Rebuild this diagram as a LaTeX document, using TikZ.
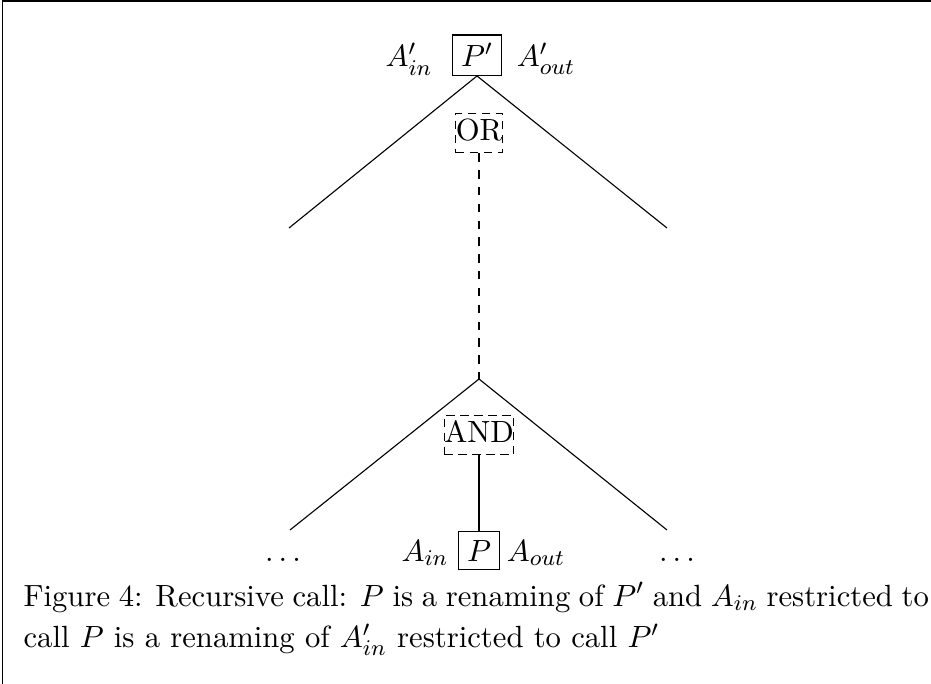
\documentclass[tikz,border=0pt]{standalone}
\begin{document}
\begin{tikzpicture}[x=0.357pt,y=-0.357pt,
  every node/.style={font=\fontsize{10.95pt}{13.6pt}\selectfont},
  solidbox/.style={draw,inner sep=3pt},
  dashbox/.style={draw,densely dashed,inner xsep=0pt,inner ysep=0.3pt},
  lbl/.style={anchor=base,inner sep=0pt},
  branch/.style={line width=0.4pt}]
\useasboundingbox (0,0) rectangle (931,684);
\draw[line width=0.5pt] (2.5,684) -- (2.5,1) -- (931,1);
% top
\node[solidbox,anchor=base] (Pp) at (477,67) {$P'$};
\node[lbl] (Ainp) at (409,67) {$A'_{in}$};
\node[lbl] (Aoutp) at (546,67) {$A'_{out}$};
\coordinate (tl) at (289,228);
\coordinate (tr) at (667,228);
\draw[branch] (tl) -- (Pp.south) -- (tr);
\node[dashbox] (or) at (479,133) {\strut OR};
\coordinate (apex) at (479,379);
\draw[dashed] (or.south) -- (apex);
\coordinate (bl) at (290,530);
\coordinate (br) at (667,530);
\draw[branch] (bl) -- (apex) -- (br);
\node[dashbox] (and) at (479,435) {\strut AND};
\node[solidbox,anchor=base] (P) at (479,561) {$P$};
\node[lbl] (Ain) at (425,561) {$A_{in}$};
\node[lbl] (Aout) at (536,561) {$A_{out}$};
\node[lbl] (d1) at (283,561) {$\ldots$};
\node[lbl] (d2) at (677,561) {$\ldots$};
\draw (and.south) -- (P.north);
\node[anchor=base west,inner sep=0pt] (cap) at (23,606) {\parbox[t]{323.2pt}{\baselineskip=14.8pt Figure 4: Recursive call: $P$ is a renaming of $P'$ and $A_{in}$ restricted to\linebreak call $P$ is a renaming of $A'_{in}$ restricted to call $P'$}};
\end{tikzpicture}
\end{document}
